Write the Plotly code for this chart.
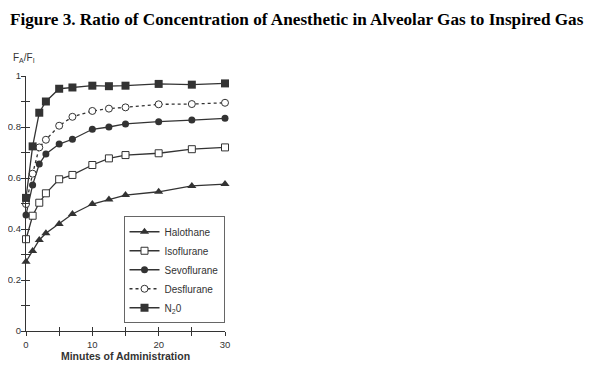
import plotly.graph_objects as go

minutes = [0, 1, 2, 3, 5, 7, 10, 12.5, 15, 20, 25, 30]
halothane = [0.272, 0.314, 0.357, 0.383, 0.42, 0.459, 0.498, 0.516, 0.533, 0.546, 0.569, 0.576]
isoflurane = [0.36, 0.452, 0.503, 0.54, 0.595, 0.612, 0.651, 0.677, 0.69, 0.697, 0.713, 0.72]
sevoflurane = [0.455, 0.573, 0.655, 0.694, 0.733, 0.752, 0.791, 0.80, 0.812, 0.821, 0.827, 0.834]
desflurane = [0.498, 0.617, 0.72, 0.75, 0.805, 0.84, 0.863, 0.872, 0.877, 0.889, 0.89, 0.895]
n2o = [0.522, 0.724, 0.856, 0.90, 0.95, 0.955, 0.962, 0.96, 0.962, 0.969, 0.966, 0.971]

y_tickvals = [0, 0.1, 0.2, 0.3, 0.4, 0.5, 0.6, 0.7, 0.8, 0.9, 1.0]
y_ticktext = ["0", "", "0.2", "", "0.4", "", "0.6", "", "0.8", "", "1"]
x_tickvals = [0, 5, 10, 15, 20, 25, 30]
x_ticktext = ["0", "", "10", "", "20", "", "30"]

INK = "#333333"
font_sans = "Liberation Sans, Arial, sans-serif"

series = [
    ("Halothane", halothane, dict(symbol="triangle-up", size=8, color=INK), "solid"),
    ("Isoflurane", isoflurane, dict(symbol="square", size=7, color="white", line=dict(color=INK, width=1)), "solid"),
    ("Sevoflurane", sevoflurane, dict(symbol="circle", size=7, color=INK), "solid"),
    ("Desflurane", desflurane, dict(symbol="circle", size=7, color="white", line=dict(color=INK, width=1)), "dot"),
    ("N<sub>2</sub>0", n2o, dict(symbol="square", size=8, color=INK), "solid"),
]

fig = go.Figure()
for name, vals, marker, dash in series:
    fig.add_trace(go.Scatter(
        x=minutes, y=vals, name=name, mode="lines+markers",
        line=dict(color=INK, width=1.3, dash=dash), marker=marker,
        cliponaxis=False,
    ))

# dummy trace for crossing (inside) ticks
fig.add_trace(go.Scatter(x=[], y=[], xaxis="x2", yaxis="y2", showlegend=False, hoverinfo="skip"))

axis_common = dict(showgrid=False, zeroline=False, color=INK, automargin=False)
fig.update_layout(
    width=590, height=365,
    margin=dict(l=18, r=373, t=68, b=42),
    paper_bgcolor="white", plot_bgcolor="white",
    font=dict(family=font_sans, size=10, color=INK),
    showlegend=True,
    xaxis=dict(range=[0, 30], tickvals=x_tickvals, ticktext=x_ticktext,
               ticks="outside", ticklen=4, tickcolor=INK, tickwidth=1,
               showline=True, linecolor=INK, linewidth=1.2,
               tickfont=dict(size=9.5, color=INK),
               title=dict(text="<b>Minutes of Administration</b>", font=dict(size=10.5, color=INK), standoff=4),
               **axis_common),
    yaxis=dict(range=[0, 1], tickvals=y_tickvals, ticktext=y_ticktext,
               ticks="outside", ticklen=4, tickcolor=INK, tickwidth=1,
               showline=True, linecolor=INK, linewidth=1.2,
               tickfont=dict(size=9.5, color=INK), ticklabelstandoff=-2,
               **axis_common),
    xaxis2=dict(range=[0, 30], overlaying="x", tickvals=x_tickvals, showticklabels=False,
                ticks="inside", ticklen=4, tickcolor=INK, showline=False, **axis_common),
    yaxis2=dict(range=[0, 1], overlaying="y", tickvals=y_tickvals, showticklabels=False,
                ticks="inside", ticklen=4, tickcolor=INK, showline=False, **axis_common),
    legend=dict(x=0.49, y=0.45, xanchor="left", yanchor="top",
                bordercolor="#666666", borderwidth=1, bgcolor="white",
                font=dict(size=10, color=INK), tracegroupgap=0, itemwidth=30),
)

fig.add_annotation(
    text="<b>Figure 3. Ratio of Concentration of Anesthetic in Alveolar Gas to Inspired Gas</b>",
    xref="paper", yref="paper", x=0, y=1, xanchor="left", yanchor="top",
    xshift=-18, yshift=68, showarrow=False,
    font=dict(family="Liberation Serif, Times New Roman, serif", size=17.2, color="black"),
)
fig.add_annotation(
    text="F<sub>A</sub>/F<sub>I</sub>",
    xref="paper", yref="paper", x=0, y=1, xanchor="left", yanchor="bottom",
    xshift=-15, yshift=10, showarrow=False,
    font=dict(family=font_sans, size=10, color=INK),
)

fig.write_html("out.html")
